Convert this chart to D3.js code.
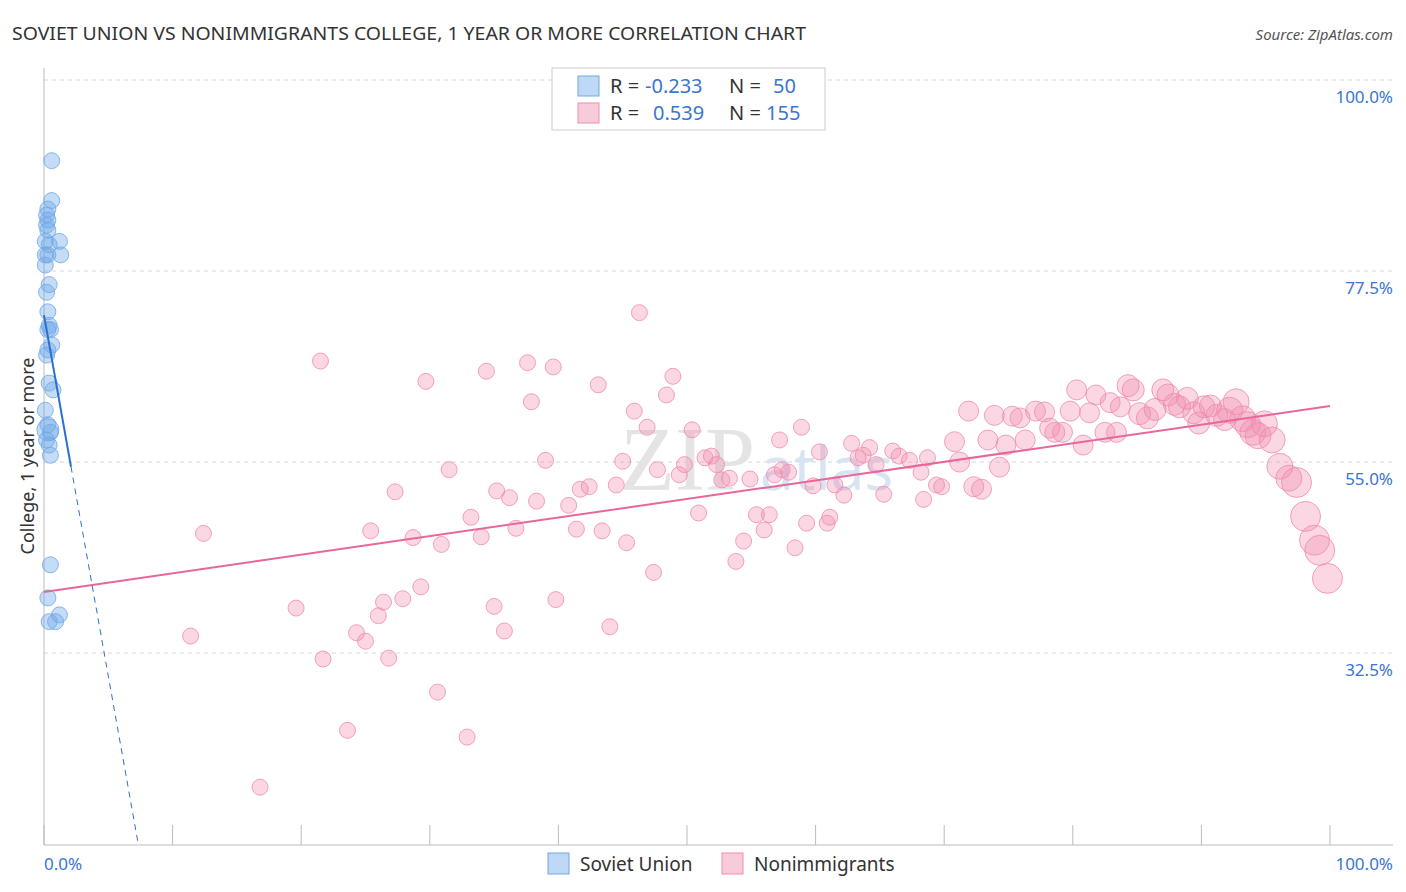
<!DOCTYPE html><html><head><meta charset="utf-8"><script src="https://cdn.jsdelivr.net/npm/d3@7"></script>
<style>body{margin:0;background:#fff;font-family:"Noto Sans",sans-serif}</style></head><body><svg id="c" width="1406" height="892"></svg><script>
const blueX=[0.6,0.6,0.3,0.2,0.3,0.2,0.3,0.1,0.4,1.2,0.1,0.3,1.3,0.1,0.4,0.2,0.3,0.4,0.5,0.3,0.6,0.3,0.2,0.4,0.7,0.1,0.3,0.5,0.2,0.4,0.5,0.3,0.5,0.3,1.2,0.4,0.9];
const blueY=[90.5,85.8,84.8,84.1,83.5,82.9,82.3,81.0,80.6,81.0,79.4,79.4,79.4,78.2,75.9,75.0,72.7,71.1,70.6,70.6,68.8,68.2,67.6,64.3,63.5,61.1,59.4,58.5,57.6,57.0,55.8,58.8,42.9,39.0,37.0,36.2,36.2];
const pinkX=[12.4,11.4,16.8,19.6,21.5,21.7,23.6,24.3,25.0,25.4,26.0,26.4,26.8,27.3,27.9,28.7,29.3,29.7,30.6,30.9,31.5,32.9,33.2,34.0,34.4,35.0,35.2,35.8,36.2,36.7,37.6,37.9,38.3,39.0,39.6,39.8,40.8,41.4,41.7,42.4,43.1,43.4,44.0,44.5,45.0,45.3,45.9,46.3,46.9,47.4,47.7,48.4,48.9,49.4,49.8,50.4,50.9,51.4,51.9,52.3,52.7,53.3,53.8,54.4,54.9,55.4,56.0,56.4,56.8,57.2,57.4,57.9,58.4,58.9,59.3,59.8,60.3,60.9,61.1,61.5,62.2,62.8,63.3,63.7,64.2,64.7,65.3,66.0,66.5,67.3,68.2,68.4,68.7,69.4,69.8,70.8,71.2,71.9,72.3,72.9,73.4,73.9,74.3,74.8,75.3,75.9,76.3,77.1,77.8,78.2,78.6,79.2,79.8,80.3,80.8,81.3,81.8,82.5,82.9,83.4,83.7,84.3,84.7,85.2,85.8,86.4,87.0,87.4,87.9,88.3,88.9,89.4,89.8,90.2,90.7,91.2,91.8,92.2,92.7,93.2,93.6,94.0,94.4,94.9,95.5,96.1,96.8,97.4,98.1,98.8,99.2,99.8];
const pinkY=[46.6,34.5,16.7,37.8,66.9,31.8,23.4,34.9,33.9,46.9,36.9,38.5,31.9,51.5,38.9,46.1,40.3,64.5,27.9,45.3,54.1,22.6,48.5,46.2,65.7,38.0,51.6,35.1,50.8,47.2,66.7,62.1,50.4,55.2,66.2,38.8,49.9,47.1,51.8,52.1,64.1,46.9,35.6,52.3,55.1,45.5,61.0,72.6,59.1,42.0,54.1,62.9,65.1,53.5,54.7,58.8,49.0,55.5,55.7,54.7,52.9,53.1,43.3,45.7,53.0,48.8,47.0,48.8,53.5,57.6,54.1,53.8,44.9,59.1,47.8,52.2,56.2,47.8,48.5,52.3,51.1,57.2,55.5,55.8,56.7,54.7,51.2,56.3,55.7,55.2,53.8,50.6,55.5,52.3,52.1,57.4,55.0,61.0,52.1,51.8,57.6,60.5,54.4,57.0,60.4,60.2,57.6,61.0,60.9,59.0,58.5,58.5,61.0,63.5,57.0,60.8,62.9,58.5,62.0,58.5,61.5,64.0,63.5,60.7,60.2,61.2,63.5,62.9,61.8,61.5,62.5,60.8,59.6,61.5,61.6,60.5,60.0,61.1,62.1,60.1,59.4,58.5,58.1,59.5,57.6,54.5,53.1,52.6,48.6,45.8,44.6,41.3];
const yTicks=[32.5,55,77.5,100];
const xTicks=[0,10,20,30,40,50,60,70,80,90,100];
const svg=d3.select("#c");
const x=d3.scaleLinear().domain([0,100]).range([44,1330]);
const y=d3.scaleLinear().domain([0,100]).range([929,80]);
const blue="#6fa8e8",pink="#f08bb0";
yTicks.forEach(t=>{svg.append("line").attr("x1",44).attr("x2",1393).attr("y1",y(t)).attr("y2",y(t)).attr("stroke","#d8d8d8").attr("stroke-dasharray","4,4");
 svg.append("text").attr("x",1393).attr("y",y(t)+23).attr("text-anchor","end").attr("fill","#3a75d0").attr("font-size",17).text(t.toFixed(1)+"%");});
svg.append("line").attr("x1",44).attr("x2",44).attr("y1",68).attr("y2",845).attr("stroke","#bbb");
svg.append("line").attr("x1",44).attr("x2",1393).attr("y1",845).attr("y2",845).attr("stroke","#bbb");
xTicks.forEach(t=>svg.append("line").attr("x1",x(t)).attr("x2",x(t)).attr("y1",825).attr("y2",845).attr("stroke","#bbb"));
svg.append("text").attr("x",44).attr("y",870).attr("fill","#3a75d0").attr("font-size",17).text("0.0%");
svg.append("text").attr("x",1393).attr("y",870).attr("text-anchor","end").attr("fill","#3a75d0").attr("font-size",17).text("100.0%");
svg.append("text").attr("x",620).attr("y",490).attr("font-size",90).attr("fill","#e4e4e4").attr("font-family","serif").text("ZIP");
svg.append("text").attr("x",760).attr("y",490).attr("font-size",60).attr("fill","#d8e4f2").text("atlas");
const pr=i=>pinkX[i]>97?15:pinkX[i]>92?13:pinkX[i]>84?11:pinkX[i]>70?10:8;
svg.append("g").selectAll("circle").data(pinkX).join("circle").attr("cx",d=>x(d)).attr("cy",(d,i)=>y(pinkY[i])).attr("r",(d,i)=>pr(i)).attr("fill",pink).attr("fill-opacity",0.35).attr("stroke",pink).attr("stroke-opacity",0.8);
svg.append("g").selectAll("circle").data(blueX).join("circle").attr("cx",d=>x(d)).attr("cy",(d,i)=>y(blueY[i])).attr("r",(d,i)=>i==31?11:8).attr("fill",blue).attr("fill-opacity",0.4).attr("stroke",blue).attr("stroke-opacity",0.8);
svg.append("line").attr("x1",x(0)).attr("y1",y(39.7)).attr("x2",x(100)).attr("y2",y(61.6)).attr("stroke","#e8679a").attr("stroke-width",2);
const bl=v=>72.3-8.5*v;
svg.append("line").attr("x1",x(0)).attr("y1",y(bl(0))).attr("x2",x(2.1)).attr("y2",y(bl(2.1))).attr("stroke","#2d6fd0").attr("stroke-width",2);
svg.append("line").attr("x1",x(2.1)).attr("y1",y(bl(2.1))).attr("x2",x(7.3)).attr("y2",y(bl(7.3))).attr("stroke","#2d6fd0").attr("stroke-dasharray","6,5");
svg.append("text").attr("x",12).attr("y",40).attr("font-size",18).attr("textLength",794).attr("lengthAdjust","spacingAndGlyphs").attr("fill","#333").text("SOVIET UNION VS NONIMMIGRANTS COLLEGE, 1 YEAR OR MORE CORRELATION CHART");
svg.append("text").attr("x",1393).attr("y",40).attr("text-anchor","end").attr("font-size",15).attr("font-style","italic").attr("fill","#555").text("Source: ZipAtlas.com");
svg.append("text").attr("transform","translate(34,456) rotate(-90)").attr("text-anchor","middle").attr("font-size",18).attr("fill","#333").text("College, 1 year or more");
const lg=svg.append("g");
lg.append("rect").attr("x",552).attr("y",68).attr("width",273).attr("height",62).attr("fill","#fff").attr("stroke","#ccc");
[["-0.233","50",blue],["0.539","155",pink]].forEach((r,i)=>{const yy=86+i*27;
 lg.append("rect").attr("x",578).attr("y",yy-10).attr("width",21).attr("height",20).attr("fill",r[2]).attr("fill-opacity",0.45).attr("stroke",r[2]);
 const t=lg.append("text").attr("x",610).attr("y",yy+7).attr("font-size",20).attr("fill","#333");
 t.append("tspan").text("R = ");t.append("tspan").attr("fill","#3a75d0").attr("x",i?653:645).text(r[0]);
 t.append("tspan").attr("x",729).text("N = ");t.append("tspan").attr("fill","#3a75d0").attr("x",i?766:773).text(r[1]);});
[["Soviet Union",blue,548],["Nonimmigrants",pink,722]].forEach(r=>{
 svg.append("rect").attr("x",r[2]).attr("y",853).attr("width",21).attr("height",21).attr("fill",r[1]).attr("fill-opacity",0.45).attr("stroke",r[1]);
 svg.append("text").attr("x",r[2]+32).attr("y",871).attr("font-size",19).attr("fill","#333").text(r[0]);});
</script></body></html>
